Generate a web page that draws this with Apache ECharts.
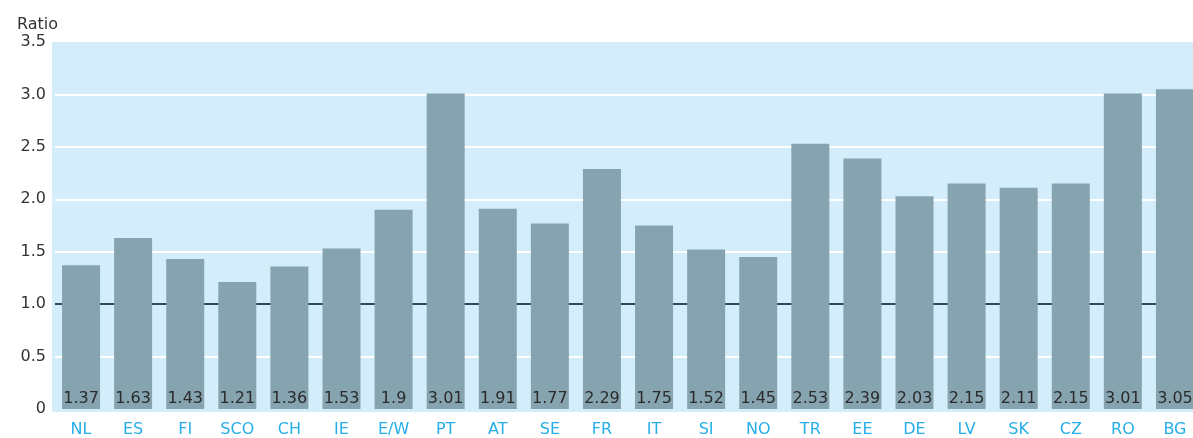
<!DOCTYPE html>
<html>
<head>
<meta charset="utf-8">
<script src="https://cdn.jsdelivr.net/npm/echarts@6/dist/echarts.min.js"></script>
<style>
  html, body { margin: 0; padding: 0; background: #ffffff; overflow: hidden; }
  #chart { width: 1205px; height: 438px; }
</style>
</head>
<body>
<div id="chart"></div>
<script>
// Country codes along the x axis
const categories = ['NL', 'ES', 'FI', 'SCO', 'CH', 'IE', 'E/W', 'PT', 'AT', 'SE', 'FR',
  'IT', 'SI', 'NO', 'TR', 'EE', 'DE', 'LV', 'SK', 'CZ', 'RO', 'BG'];
// Ratio per country
const ratios = [1.37, 1.63, 1.43, 1.21, 1.36, 1.53, 1.9, 3.01, 1.91, 1.77, 2.29,
  1.75, 1.52, 1.45, 2.53, 2.39, 2.03, 2.15, 2.11, 2.15, 3.01, 3.05];
// Y axis tick labels, from 0 up to 3.5
const yTickLabels = ['0', '0.5', '1.0', '1.5', '2.0', '2.5', '3.0', '3.5'];

const FONT = 'DejaVu Sans';
const chart = echarts.init(document.getElementById('chart'), null, { renderer: 'canvas' });

chart.setOption({
  animation: false,
  backgroundColor: '#ffffff',
  title: {
    text: 'Ratio',
    left: 12,
    top: 12,
    textStyle: { fontFamily: FONT, fontSize: 16, fontWeight: 'normal', color: '#333333' }
  },
  grid: {
    left: 55,
    top: 42,
    width: 1146,
    bottom: 28,
    show: false
  },
  graphic: [{
    // light blue plot panel behind the bars and grid lines
    type: 'rect',
    z: -1,
    left: 52, top: 42,
    shape: { width: 1153, height: 370 },
    style: { fill: '#d3eefa' },
    silent: true
  }],
  xAxis: {
    type: 'category',
    data: categories,
    axisLine: { show: false },
    axisTick: { show: false },
    axisLabel: { fontFamily: FONT, fontSize: 16, color: '#27aee8', margin: 13 }
  },
  yAxis: {
    type: 'value',
    min: 0,
    max: 3.5,
    interval: 0.5,
    axisLine: { show: false },
    axisTick: { show: false },
    axisLabel: {
      fontFamily: FONT, fontSize: 16, color: '#333333', margin: 9,
      formatter: function (v) { return yTickLabels[Math.round(v / 0.5)]; }
    },
    splitLine: {
      show: true,
      lineStyle: {
        width: 2,
        color: ['rgba(0,0,0,0)', '#ffffff', '#2b4b5a', '#ffffff', '#ffffff', '#ffffff', '#ffffff', 'rgba(0,0,0,0)']
      }
    }
  },
  series: [{
    type: 'bar',
    data: ratios,
    barWidth: 38,
    itemStyle: { color: '#86a3b0' },
    label: {
      show: true,
      position: 'insideBottom',
      distance: 2,
      fontFamily: FONT,
      fontSize: 16,
      color: '#2b2b2b'
    }
  }]
});
</script>
</body>
</html>
